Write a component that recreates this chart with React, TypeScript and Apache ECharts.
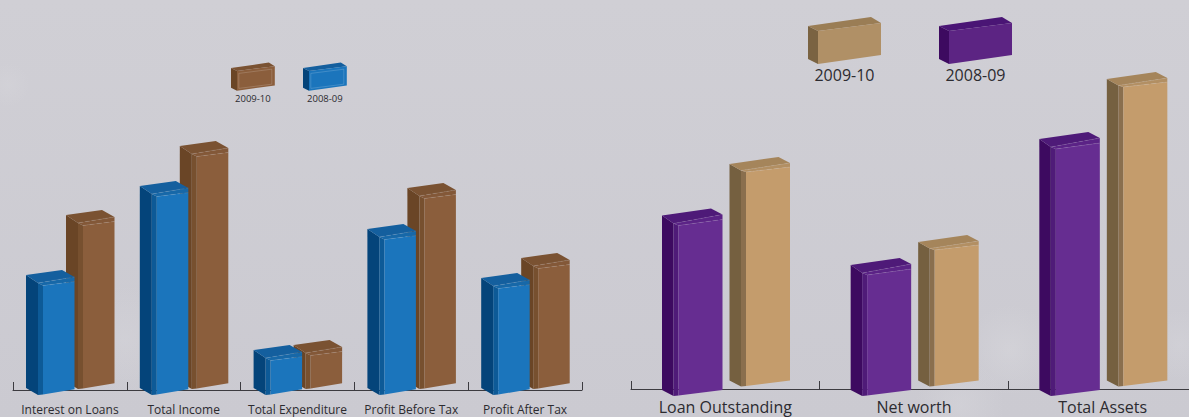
import React, { useEffect, useRef } from "react";
import * as echarts from "echarts";

// Income statement figures, in the chart's own plotted units
const incomeCategories = ["Interest on Loans", "Total Income", "Total Expenditure", "Profit Before Tax", "Profit After Tax"];
const income2009 = [163, 232, 33, 190, 120];
const income2008 = [109, 198, 34, 155, 106];

// Balance sheet figures
const balanceCategories = ["Loan Outstanding", "Net worth", "Total Assets"];
const balance2009 = [214, 136, 299];
const balance2008 = [170, 120.5, 246.5];

const yearLabels = ["2009-10", "2008-09"];

const FONT = "'Open Sans', 'Noto Sans', sans-serif";
const INK = "#2c2b30";

type Tone = { face: string; side: string; bevel: string; top: string; strip: string };
const BLUE: Tone = { face: "#1b75bc", side: "#04447a", bevel: "#0d5a97", top: "#145f9e", strip: "#1768a8" };
const BROWN: Tone = { face: "#8b5e3c", side: "#6a4526", bevel: "#77502f", top: "#7a5232", strip: "#835838" };
const PURPLE: Tone = { face: "#662d91", side: "#3d0a60", bevel: "#4f1b78", top: "#4e1a78", strip: "#5b2386" };
const TAN: Tone = { face: "#c49c6c", side: "#756040", bevel: "#8a6f4e", top: "#a5855b", strip: "#b28f63" };

// Shape of a bar relative to the top-left corner of its front face
const SMALL = {
  w: 31.5, outer: -17, inner: -5,
  topLeft: -10.6, backX: 19, back: -15.6, topRight: -8.6, topFront: -2.6, faceRight: -4,
  botRight: -5.3, botLeft: -6.6, botFront: 0.4,
};
const LARGE = {
  w: 44, outer: -16.5, inner: -5,
  topLeft: -10, backX: 32.5, back: -17, topRight: -11, topFront: -2, faceRight: -6,
  botRight: -5.5, botLeft: -5.5, botFront: 0.5,
};
const LARGE_SHALLOW = { ...LARGE, topLeft: -8, back: -15, topRight: -9, topFront: -1.5, faceRight: -5 };

function boxRenderer(tone: Tone, g: typeof SMALL, bandOffset: number, baseShift: number) {
  return (_params: any, api: any) => {
    const top = api.coord([api.value(0), api.value(1)]);
    const base = api.coord([api.value(0), 0]);
    const bandLeft = top[0] - api.size([1, 0])[0] / 2;
    const x = bandLeft + bandOffset;
    const y = top[1] + baseShift;
    const b = base[1] + baseShift;
    const poly = (points: number[][], fill: string) => ({
      type: "polygon",
      shape: { points },
      style: { fill, stroke: null },
    });
    const edge = (x1: number, y1: number, x2: number, y2: number) => ({
      type: "line",
      shape: { x1, y1, x2, y2 },
      style: { stroke: "rgba(255,255,255,0.13)", lineWidth: 0.8, lineDash: [5, 2], fill: null },
    });
    return {
      type: "group",
      children: [
        poly([[x + g.outer, y + g.topLeft], [x + g.inner, y + g.topFront], [x + g.inner, b + g.botFront], [x + g.outer, b + g.botLeft]], tone.side),
        poly([[x + g.inner, y + g.topFront], [x, y], [x, b], [x + g.inner, b + g.botFront]], tone.bevel),
        poly([[x + g.outer, y + g.topLeft], [x + g.backX, y + g.back], [x + g.w, y + g.topRight], [x + g.inner, y + g.topFront]], tone.top),
        poly([[x + g.inner, y + g.topFront], [x + g.w, y + g.topRight], [x + g.w, y + g.faceRight], [x, y]], tone.strip),
        poly([[x, y], [x + g.w, y + g.faceRight], [x + g.w, b + g.botRight], [x, b]], tone.face),
        edge(x + g.inner, y + g.topFront, x + g.w, y + g.topRight),
        edge(x, y, x + g.w, y + g.faceRight),
      ],
    };
  };
}

function series(name: string, values: number[], index: number, tone: Tone, g: typeof SMALL, bandOffset: number, baseShift: number) {
  return {
    name,
    type: "custom",
    xAxisIndex: index,
    yAxisIndex: index,
    clip: false,
    data: values.map((v, i) => [i, v]),
    encode: { x: 0, y: 1 },
    renderItem: boxRenderer(tone, g, bandOffset, baseShift),
  };
}

// A small brick standing in for a legend key, with its caption underneath
function legendKey(x: number, y: number, s: number, tone: Tone, label: string, size: number, captionY: number, framed: boolean) {
  const p = (pts: number[][]) => pts.map(([a, b]) => [x + a * s, y + b * s]);
  const poly = (pts: number[][], fill: string) => ({ type: "polygon", shape: { points: p(pts) }, style: { fill } });
  const frame = framed
    ? [{
        type: "polygon",
        shape: { points: p([[13, 9], [68, 2], [68, 27], [13, 34]]) },
        style: { fill: "none", stroke: "rgba(255,255,255,0.24)", lineWidth: 0.7 },
      }]
    : [];
  return [
    poly([[0, 0], [10, 5], [10, 38], [0, 33]], tone.side),
    poly([[0, 0], [63, -9], [73, -3], [10, 5]], tone.top),
    poly([[10, 5], [73, -3], [73, 29], [10, 38]], tone.face),
    ...frame,
    {
      type: "text",
      style: {
        x: x + 36.5 * s,
        y: captionY,
        text: label,
        fill: INK,
        font: `${size}px ${FONT}`,
        textAlign: "center",
        textVerticalAlign: "middle",
      },
    },
  ];
}

// Soft pale patches of the mottled paper behind the charts
function paperPatch(cx: number, cy: number, r: number, alpha: number) {
  return {
    type: "circle",
    z: -1,
    shape: { cx, cy, r },
    style: {
      fill: {
        type: "radial", x: 0.5, y: 0.5, r: 0.5,
        colorStops: [
          { offset: 0, color: `rgba(222,222,226,${alpha})` },
          { offset: 1, color: "rgba(222,222,226,0)" },
        ],
      },
    },
  };
}

function categoryAxis(index: number, data: string[], size: number, margin: number) {
  return {
    type: "category",
    gridIndex: index,
    data,
    boundaryGap: true,
    axisLine: { show: true, lineStyle: { color: "#3c3b40", width: 1 } },
    axisTick: { show: true, inside: true, length: 8, alignWithLabel: false, lineStyle: { color: "#3c3b40", width: 1 } },
    axisLabel: { color: INK, fontFamily: FONT, fontSize: size, margin, interval: 0, lineHeight: size - 1 },
  };
}

function valueAxis(index: number, max: number) {
  return { type: "value", gridIndex: index, min: 0, max, show: false };
}

export default function App() {
  const ref = useRef<HTMLDivElement>(null);

  useEffect(() => {
    document.body.style.margin = "0";
    const chart = echarts.init(ref.current!, undefined, { renderer: "svg" });
    chart.setOption({
      animation: false,
      backgroundColor: {
        type: "linear", x: 0, y: 0, x2: 0, y2: 1,
        colorStops: [
          { offset: 0, color: "#d0cfd5" },
          { offset: 1, color: "#cbcad1" },
        ],
      },
      grid: [
        { left: 13, top: 0, width: 569, height: 390, outerBoundsMode: "none" },
        { left: 631, top: 0, width: 566, height: 389, outerBoundsMode: "none" },
      ],
      xAxis: [categoryAxis(0, incomeCategories, 12, 14), categoryAxis(1, balanceCategories, 16, 10)],
      yAxis: [valueAxis(0, 390), valueAxis(1, 389)],
      series: [
        series(yearLabels[0], income2009, 0, BROWN, SMALL, 70, -1.5),
        series(yearLabels[1], income2008, 0, BLUE, SMALL, 30, 4.6),
        series(yearLabels[0], balance2009, 1, TAN, LARGE_SHALLOW, 115, -3),
        series(yearLabels[1], balance2008, 1, PURPLE, LARGE, 47.5, 6.5),
      ],
      graphic: [
        paperPatch(125, 340, 55, 0.25),
        paperPatch(8, 85, 22, 0.2),
        paperPatch(1010, 350, 45, 0.35),
        paperPatch(960, 405, 45, 0.3),
        paperPatch(1180, 345, 35, 0.25),
        ...legendKey(231, 68, 0.6, BROWN, yearLabels[0], 9.5, 98, true),
        ...legendKey(303, 68, 0.6, BLUE, yearLabels[1], 9.5, 98, true),
        ...legendKey(808, 26, 1, { ...TAN, face: "#b09066", top: "#9a7d55", side: "#7a6342" }, yearLabels[0], 16, 75, false),
        ...legendKey(939, 26, 1, { ...PURPLE, face: "#5c2483", top: "#4a1575", side: "#3d0a60" }, yearLabels[1], 16, 75, false),
      ],
    });
    return () => chart.dispose();
  }, []);

  return <div ref={ref} style={{ width: 1189, height: 417 }} />;
}
